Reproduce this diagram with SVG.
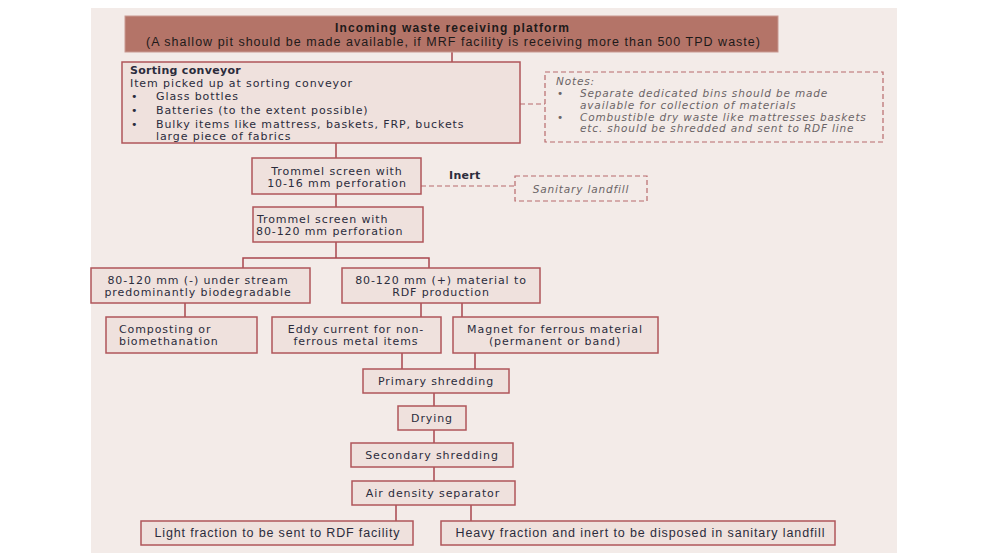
<svg xmlns="http://www.w3.org/2000/svg" width="1000" height="560" viewBox="0 0 1000 560">
<style>
.bg{fill:#f3ebe8}
.hdr{fill:#b47468;stroke:#c99a92;stroke-width:1}
.box{fill:#efe1dd;stroke:#b0565a;stroke-width:1.5}
.dbox{fill:none;stroke:#b86a6c;stroke-width:1.2;stroke-dasharray:5 3}
.ln{fill:none;stroke:#a9474d;stroke-width:1.5}
.dln{fill:none;stroke:#b86a6c;stroke-width:1.2;stroke-dasharray:5 3}
text{font-family:"DejaVu Sans","Liberation Sans",sans-serif;font-size:11px;letter-spacing:0.9px;fill:#2b2c3c;dominant-baseline:central}
.c{text-anchor:middle}
.b{font-weight:bold;letter-spacing:0.3px}
.h{font-family:"Liberation Sans",Arial,sans-serif;fill:#1e1a1a;font-size:12.5px;letter-spacing:0}
.h1{font-size:12px}
.n{font-style:italic;fill:#6b6466;font-size:10.5px;letter-spacing:0.85px}
.bt{font-family:"Liberation Sans",Arial,sans-serif;font-size:12.5px;letter-spacing:0}
</style>
<rect class="bg" x="91" y="8" width="806" height="545"/>

<g id="connectors">
<path class="ln" d="M452 52V62"/>
<path class="dln" d="M520 104H545"/>
<path class="ln" d="M336 143V158"/>
<path class="dln" d="M421 186H515"/>
<path class="ln" d="M336 194V207"/>
<path class="ln" d="M336 242V258M243 268V258H429V268"/>
<path class="ln" d="M185 303V317"/>
<path class="ln" d="M421 303V317M462 303V317"/>
<path class="ln" d="M402 353V369M475 353V369"/>
<path class="ln" d="M434 393V406M434 430V443M434 467V481"/>
<path class="ln" d="M396 505V521M471 505V521"/>
<text class="b" x="449" y="175">Inert</text>
</g>

<g id="header">
<rect class="hdr" x="125" y="16" width="653" height="36"/>
<text class="h h1 c b" x="452" y="28" textLength="234">Incoming waste receiving platform</text>
<text class="h c" x="453" y="41.5" textLength="614">(A shallow pit should be made available, if MRF facility is receiving more than 500 TPD waste)</text>
</g>

<g id="sorting">
<rect class="box" x="122" y="62" width="398" height="81"/>
<text class="b" x="130" y="70">Sorting conveyor</text>
<text x="130" y="83">Item picked up at sorting conveyor</text>
<text x="131" y="96">•</text><text x="156" y="96">Glass bottles</text>
<text x="131" y="110">•</text><text x="156" y="110">Batteries (to the extent possible)</text>
<text x="131" y="124">•</text><text x="156" y="124">Bulky items like mattress, baskets, FRP, buckets</text>
<text x="156" y="136">large piece of fabrics</text>
</g>

<g id="notes">
<rect class="dbox" x="545" y="72" width="338" height="70"/>
<text class="n" x="556" y="81">Notes:</text>
<text class="n" x="557" y="93">•</text><text class="n" x="580" y="93">Separate dedicated bins should be made</text>
<text class="n" x="580" y="105">available for collection of materials</text>
<text class="n" x="557" y="117">•</text><text class="n" x="580" y="117">Combustible dry waste like mattresses baskets</text>
<text class="n" x="580" y="128">etc. should be shredded and sent to RDF line</text>
</g>

<g id="trommel1">
<rect class="box" x="252" y="158" width="169" height="36"/>
<text class="c" x="337" y="171">Trommel screen with</text>
<text class="c" x="337" y="183">10-16 mm perforation</text>
</g>

<g id="landfill">
<rect class="dbox" x="515" y="176" width="132" height="25"/>
<text class="n c" x="581" y="188.5">Sanitary landfill</text>
</g>

<g id="trommel2">
<rect class="box" x="253" y="207" width="170" height="35"/>
<text x="257" y="219">Trommel screen with</text>
<text x="256" y="231">80-120 mm perforation</text>
</g>

<g id="understream">
<rect class="box" x="91" y="268" width="219" height="35"/>
<text class="c" x="198" y="280">80-120 mm (-) under stream</text>
<text class="c" x="198" y="292">predominantly biodegradable</text>
</g>

<g id="rdfmaterial">
<rect class="box" x="342" y="268" width="198" height="35"/>
<text class="c" x="441" y="280">80-120 mm (+) material to</text>
<text class="c" x="441" y="292">RDF production</text>
</g>

<g id="composting">
<rect class="box" x="106" y="317" width="151" height="36"/>
<text x="119" y="329">Composting or</text>
<text x="119" y="341">biomethanation</text>
</g>

<g id="eddy">
<rect class="box" x="272" y="317" width="169" height="36"/>
<text class="c" x="356" y="329">Eddy current for non-</text>
<text class="c" x="356" y="341">ferrous metal items</text>
</g>

<g id="magnet">
<rect class="box" x="453" y="317" width="205" height="36"/>
<text class="c" x="555" y="329">Magnet for ferrous material</text>
<text class="c" x="555" y="341">(permanent or band)</text>
</g>

<g id="primary">
<rect class="box" x="363" y="369" width="146" height="24"/>
<text class="c" x="436" y="381">Primary shredding</text>
</g>

<g id="drying">
<rect class="box" x="398" y="406" width="68" height="24"/>
<text class="c" x="432" y="418">Drying</text>
</g>

<g id="secondary">
<rect class="box" x="351" y="443" width="162" height="24"/>
<text class="c" x="432" y="455">Secondary shredding</text>
</g>

<g id="airdensity">
<rect class="box" x="352" y="481" width="163" height="24"/>
<text class="c" x="433" y="493">Air density separator</text>
</g>

<g id="light">
<rect class="box" x="141" y="521" width="272" height="24"/>
<text class="bt c" x="277" y="533" textLength="245">Light fraction to be sent to RDF facility</text>
</g>

<g id="heavy">
<rect class="box" x="441" y="521" width="394" height="24"/>
<text class="bt c" x="640" y="533" textLength="369">Heavy fraction and inert to be disposed in sanitary landfill</text>
</g>
</svg>
